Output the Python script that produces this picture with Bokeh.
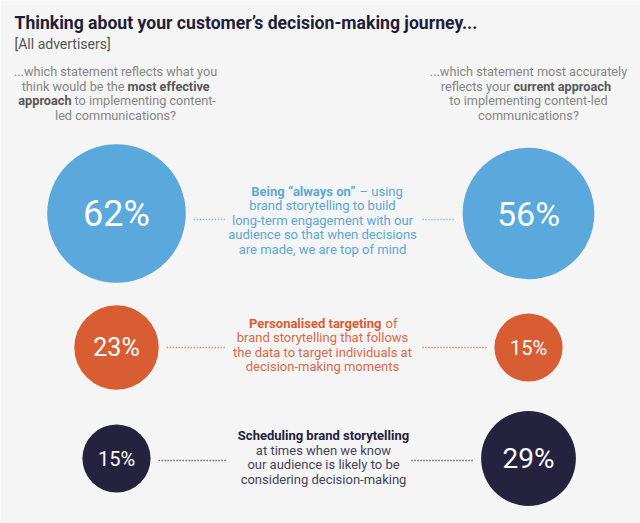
import math
from bokeh.plotting import figure
from bokeh.models import Range1d, ColumnDataSource
from bokeh.core.properties import value
from bokeh.embed import file_html
from bokeh.resources import INLINE

# ---- data ----
categories = ["Being “always on”", "Personalised targeting", "Scheduling brand storytelling"]
most_effective = [62, 23, 15]      # left circles (%)
current_approach = [56, 15, 29]    # right circles (%)

title = "Thinking about your customer’s decision-making journey..."
subtitle = "[All advertisers]"

# ---- styles / layout ----
colors = ["#5aa8dc", "#d95d32", "#24223f"]
text_colors = ["#5aa8dc", "#dc6a44", "#45445a"]
bold_colors = ["#5aa8dc", "#d95d32", "#24223f"]
row_y = [213, 347, 458]
line_y = [219, 347, 460]
left_x, right_x = 116, 528
inner_left = [224, 224, 227]
inner_right = [422, 422, 411]
FONT = "Roboto"
SCALE = 17.6  # diameter (px) per sqrt(percent) -> area proportional

p = figure(width=640, height=523, x_range=Range1d(0, 640), y_range=Range1d(523, 0),
           x_axis_type=None, y_axis_type=None, toolbar_location=None,
           output_backend="svg", min_border=0,
           background_fill_color="#f5f5f5", border_fill_color="#f5f5f5",
           outline_line_color=None)
p.grid.visible = False


def txt(x, y, s, size=13, color="#333", bold=False, align="center"):
    p.text(x=[x], y=[y], text=[s], text_font=value(FONT),
           text_font_size=f"{size}px", text_color=color,
           text_font_style="bold" if bold else "normal",
           text_align=align, text_baseline="middle")


# circles
diam_l = [SCALE * math.sqrt(v) for v in most_effective]
diam_r = [SCALE * math.sqrt(v) for v in current_approach]
src = ColumnDataSource(dict(
    x=[left_x] * 3 + [right_x] * 3,
    y=row_y + row_y,
    d=diam_l + diam_r,
    c=colors + colors,
    lab=[f"{v}%" for v in most_effective] + [f"{v}%" for v in current_approach],
    fs=[f"{d * 0.26:.0f}px" if d > 100 else f"{d * 0.295:.0f}px" for d in diam_l + diam_r],
))
p.scatter(x="x", y="y", size="d", marker="circle", fill_color="c", line_color=None, source=src)
p.text(x="x", y="y", text="lab", text_font=value(FONT), text_font_size="fs",
       text_color="white", text_align="center", text_baseline="middle", source=src)

# dotted connectors
x0 = [left_x + d / 2 + 8 for d in diam_l] + inner_right
x1 = inner_left + [right_x - d / 2 - 8 for d in diam_r]
p.segment(x0=x0, y0=line_y + line_y, x1=x1, y1=line_y + line_y,
          line_color=colors + colors, line_width=1.6, line_dash="1 2")

# header
txt(14, 22, title, 17.6, "#1e1d3a", True, "left")
txt(14, 43, subtitle, 14, "#555555", False, "left")

qc, qb = "#858585", "#575757"
QS = 12.7
# left question
txt(115, 71, "...which statement reflects what you", QS, qc)
txt(124, 86, "think would be the", QS, qc, align="right")
txt(127, 86, "most effective", QS, qb, True, "left")
txt(71, 100, "approach", QS, qb, True, "right")
txt(74, 100, "to implementing content-", QS, qc, align="left")
txt(115, 115, "led communications?", QS, qc)
# right question
txt(528, 71, "...which statement most accurately", QS, qc)
txt(510, 86, "reflects your", QS, qc, align="right")
txt(513, 86, "current approach", QS, qb, True, "left")
txt(528, 100, "to implementing content-led", QS, qc)
txt(528, 115, "communications?", QS, qc)

# row 1 text
c = text_colors[0]
txt(355, 191, categories[0], 13, bold_colors[0], True, "right")
txt(359, 191, "– using", 13, c, align="left")
for yy, s in zip([205, 220, 234, 249], ["brand storytelling to build", "long-term engagement with our",
                                        "audience so that when decisions", "are made, we are top of mind"]):
    txt(322, yy, s, 13, c)

# row 2 text
c = text_colors[1]
txt(381, 323, categories[1], 13, bold_colors[1], True, "right")
txt(385, 323, "of", 13, c, align="left")
for yy, s in zip([337, 352, 366], ["brand storytelling that follows", "the data to target individuals at",
                                   "decision-making moments"]):
    txt(322, yy, s, 13, c)

# row 3 text
c = text_colors[2]
txt(323, 435, categories[2], 13, bold_colors[2], True)
for yy, s in zip([450, 464, 479], ["at times when we know", "our audience is likely to be",
                                   "considering decision-making"]):
    txt(323, yy, s, 13, c)

html = file_html(p, INLINE)
html = html.replace("<body>", '<body style="background:#f5f5f5; overflow:hidden">', 1)
open("out.html", "w").write(html)
